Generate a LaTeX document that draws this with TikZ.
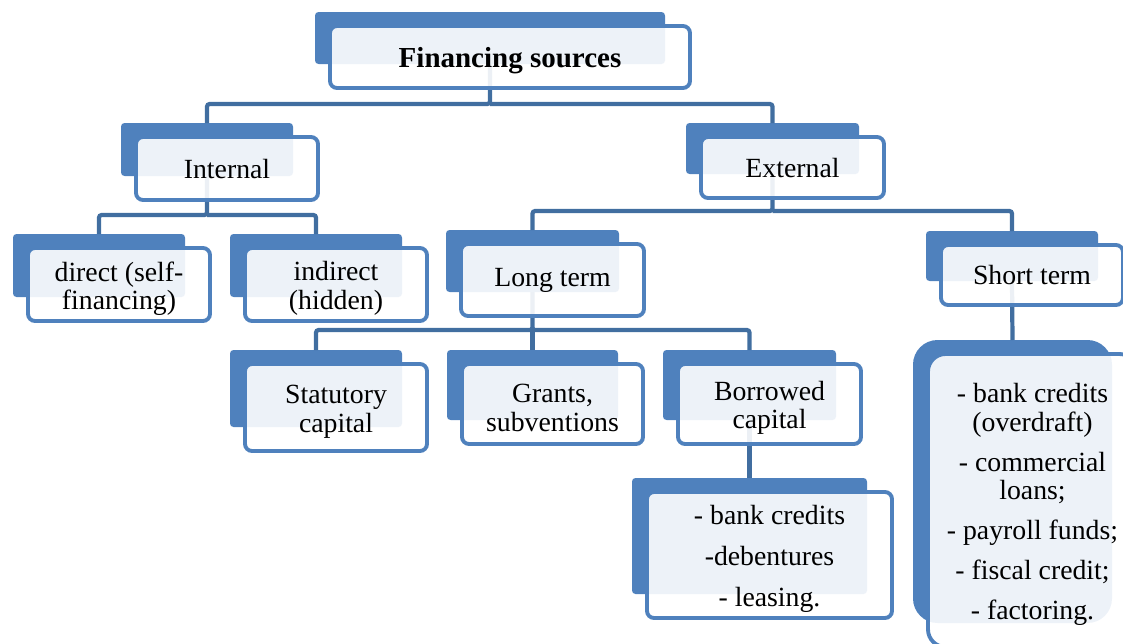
\documentclass[tikz,border=0pt]{standalone}
\usepackage{fontspec}
\setmainfont{Liberation Serif}
\usetikzlibrary{fit}
\definecolor{tileblue}{RGB}{79,129,189}
\definecolor{linkblue}{RGB}{65,110,160}
\tikzset{
  backbox/.style={fill=tileblue, rounded corners=2pt, inner sep=0pt, outer sep=0pt},
  frontbox/.style={draw=tileblue, line width=2.2pt, fill=white, fill opacity=0.9,
    rounded corners=4pt, inner sep=0pt, outer sep=0pt},
  on tile/.style={fit={([shift={(15,14)}]#1.north west) ([shift={(25,24)}]#1.south east)}},
  txt/.style={inner sep=0pt, align=center, font=\fontsize{15.8}{16.2}\selectfont},
  lines/.style={txt, yshift=-2.3pt},
  link/.style={draw=linkblue, line width=2.4pt, rounded corners=1.5pt},
}

\begin{document}
\begin{tikzpicture}[x=0.02cm,y=-0.02cm]
  \clip (0,0) rectangle (1123,643);
  % back tiles
  \node[backbox, fit={(315,12) (665,64)}] (finB) {};
  \node[backbox, fit={(121,123) (293,176)}] (intB) {};
  \node[backbox, fit={(686,123) (859,174)}] (extB) {};
  \node[backbox, fit={(13,234) (185,297)}] (dirB) {};
  \node[backbox, fit={(230,234) (402,297)}] (indB) {};
  \node[backbox, fit={(446,230) (619,292)}] (longB) {};
  \node[backbox, fit={(926,231) (1098,281)}] (shortB) {};
  \node[backbox, fit={(230,350) (402,427)}] (statB) {};
  \node[backbox, fit={(447,350) (618,420)}] (grantB) {};
  \node[backbox, fit={(663,350) (836,420)}] (borB) {};
  \node[backbox, fit={(632,478) (867,594)}] (bankB) {};
  \node[backbox, rounded corners=14pt, fit={(913,340) (1112,623)}] (listB) {};

  % connectors
  \draw[link] (finB.south) -- ++(0,40) -| (intB.north);
  \draw[link] (finB.south) ++(0,40) -| (extB.north);
  \draw[link] (intB.south) -- ++(0,39) -| (dirB.north);
  \draw[link] (intB.south) ++(0,39) -| (indB.north);
  \draw[link] (extB.south) -- ++(0,37) -| (longB.north);
  \draw[link] (extB.south) ++(0,37) -| (shortB.north);
  \draw[link] (longB.south) -- ++(0,38) -| (statB.north);
  \draw[link] (longB.south) ++(0,38) -| (grantB.north);
  \draw[link] (longB.south) ++(0,38) -| (borB.north);
  \draw[link] (borB.south) -- (bankB.north);
  \draw[link] (shortB.south) -- (listB.north);

  % front boxes
  \node[frontbox, on tile=finB] (fin) {};
  \node[frontbox, on tile=intB] (int) {};
  \node[frontbox, on tile=extB] (ext) {};
  \node[frontbox, on tile=dirB] (dir) {};
  \node[frontbox, on tile=indB] (ind) {};
  \node[frontbox, on tile=longB] (long) {};
  \node[frontbox, on tile=shortB] (short) {};
  \node[frontbox, on tile=statB] (stat) {};
  \node[frontbox, on tile=grantB] (grant) {};
  \node[frontbox, on tile=borB] (bor) {};
  \node[frontbox, on tile=bankB] (bank) {};
  \node[frontbox, on tile=listB, rounded corners=10pt] (list) {};

  % texts
  \node[lines, font=\fontsize{16.5}{18}\selectfont\bfseries] (finT) at (fin) {Financing sources};
  \node[txt] (intT) at (int) {Internal};
  \node[txt] (extT) at (ext) {External};
  \node[lines] (dirT) at (dir) {direct (self-\\financing)};
  \node[lines] (indT) at (ind) {indirect\\(hidden)};
  \node[txt] (longT) at (long) {Long term};
  \node[txt] (shortT) at (short) {Short term};
  \node[lines] (statT) at (stat) {Statutory\\capital};
  \node[lines] (grantT) at (grant) {Grants,\\subventions};
  \node[lines] (borT) at (bor) {Borrowed\\capital};
  \node[lines] (bankT) at (bank) {- bank credits\\[7pt]-debentures\\[7pt]- leasing.};
  \node[lines] (listT) at (list) {- bank credits\\(overdraft)\\[6.6pt]- commercial\\loans;\\[6.6pt]- payroll funds;\\[6.6pt]- fiscal credit;\\[6.6pt]- factoring.};
\end{tikzpicture}
\end{document}
